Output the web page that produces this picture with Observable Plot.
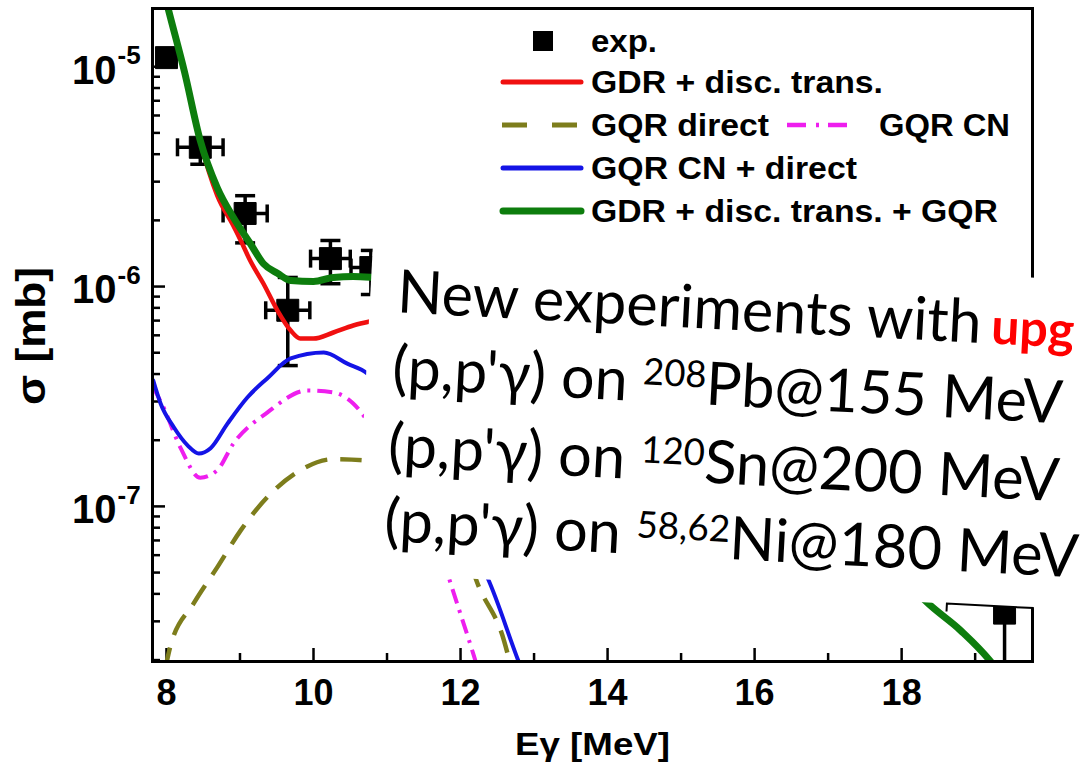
<!DOCTYPE html>
<html><head><meta charset="utf-8">
<script src="https://cdn.jsdelivr.net/npm/d3@7"></script>
<script src="https://cdn.jsdelivr.net/npm/@observablehq/plot@0.6"></script>
<style>html,body{margin:0;padding:0;background:#fff;overflow:hidden}</style>
</head><body><div id="chart"></div>
<script>
// ---------- data ----------
const expE     = [8.0, 8.46, 9.07, 9.65, 10.23, 10.78, 19.4];
const expSigma = [1.1e-5, 4.3e-6, 2.15e-6, 7.8e-7, 1.34e-6, 1.22e-6, 3.27e-8];
const expDE    = [0.1, 0.31, 0.3, 0.3, 0.27, 0.27, 0];
const expLo    = [1.1e-5, 3.6e-6, 1.58e-6, 4.37e-7, 1.03e-6, 9.2e-7, 1.0e-8];
const expHi    = [1.1e-5, 4.6e-6, 2.59e-6, 1.1e-6, 1.62e-6, 1.46e-6, 3.27e-8];

// GDR + disc. trans. + GQR (green), visible pieces
const greenE1 = [7.95, 8.03, 8.245, 8.46, 8.69, 8.91, 9.14, 9.32, 9.51, 9.69, 10.0, 10.27, 10.54, 10.82, 11.0];
const greenS1 = [2.3e-5, 1.8e-5, 9.49e-6, 4.61e-6, 2.82e-6, 2.06e-6, 1.57e-6, 1.27e-6, 1.15e-6, 1.065e-6, 1.054e-6, 1.10e-6, 1.11e-6, 1.10e-6, 1.09e-6];
const greenE2 = [18.2, 18.33, 18.8, 19.21, 19.3];
const greenS2 = [4.1e-8, 3.7e-8, 2.73e-8, 1.97e-8, 1.8e-8];

// GDR + disc. trans. (red)
const redE = [7.95, 8.03, 8.245, 8.46, 8.69, 8.91, 9.01, 9.14, 9.32, 9.51, 9.69, 9.82, 10.0, 10.27, 10.54, 10.82, 11.0];
const redS = [2.3e-5, 1.8e-5, 9.4e-6, 4.55e-6, 2.6e-6, 1.89e-6, 1.62e-6, 1.31e-6, 1.03e-6, 7.78e-7, 6.31e-7, 5.8e-7, 5.8e-7, 6.18e-7, 6.65e-7, 7.0e-7, 7.2e-7];

// GQR CN + direct (blue)
const blueE1 = [7.82, 7.92, 8.10, 8.29, 8.44, 8.60, 8.83, 9.10, 9.37, 9.69, 10.14, 10.46, 10.73, 10.95];
const blueS1 = [3.74e-7, 2.94e-7, 2.29e-7, 1.89e-7, 1.74e-7, 1.84e-7, 2.38e-7, 3.13e-7, 3.82e-7, 4.71e-7, 5.01e-7, 4.46e-7, 4.03e-7, 3.4e-7];
const blueE2 = [12.25, 12.37, 12.79, 12.85];
const blueS2 = [5.7e-8, 4.71e-8, 1.97e-8, 1.75e-8];

// GQR CN (magenta)
const magE1 = [7.82, 7.96, 8.19, 8.46, 8.69, 8.91, 9.37, 9.92, 10.27, 10.54, 10.73, 10.9];
const magS1 = [3.48e-7, 2.82e-7, 1.85e-7, 1.35e-7, 1.46e-7, 1.93e-7, 2.67e-7, 3.37e-7, 3.30e-7, 2.94e-7, 2.46e-7, 2.0e-7];
const magE2 = [11.76, 11.84, 12.18, 12.22];
const magS2 = [5.8e-8, 4.75e-8, 2.1e-8, 1.9e-8];

// GQR direct (olive)
const oliveE1 = [7.98, 8.05, 8.37, 8.69, 9.01, 9.37, 9.82, 10.27, 10.68, 10.9];
const oliveS1 = [1.8e-8, 2.29e-8, 3.62e-8, 5.28e-8, 7.78e-8, 1.10e-7, 1.46e-7, 1.64e-7, 1.62e-7, 1.55e-7];
const oliveE2 = [12.14, 12.23, 12.59, 12.68];
const oliveS2 = [5.4e-8, 4.47e-8, 2.46e-8, 1.9e-8];

// ticks and labels
const xTicks = [8, 10, 12, 14, 16, 18];
const xMinor = [9, 11, 13, 15, 17, 19];
const yMajor = [1e-7, 1e-6, 1e-5];
const yExpLabels = ["-7", "-6", "-5"];
const yMinor = [2e-8,3e-8,4e-8,5e-8,6e-8,7e-8,8e-8,9e-8,
                2e-7,3e-7,4e-7,5e-7,6e-7,7e-7,8e-7,9e-7,
                2e-6,3e-6,4e-6,5e-6,6e-6,7e-6,8e-6,9e-6];

const legendLabels = ["exp.", "GDR + disc. trans.", "GQR direct", "GQR CN", "GQR CN + direct", "GDR + disc. trans. + GQR"];
const xTitle = "Eγ [MeV]";
const yTitle = "σ [mb]";

// ---------- build ----------
const W = 1089, H = 764, mL = 152, mR = 57, mT = 8, mB = 103;
const pw = W - mL - mR, ph = H - mT - mB;

const C = {red: "#f01010", green: "#0d7d0d", blue: "#1414e6", magenta: "#ee1eee", olive: "#7d7d1c"};

const pts = expE.map((e, i) => ({E: e, s: expSigma[i], dE: expDE[i], lo: expLo[i], hi: expHi[i]}));
const ptsX = pts.filter(d => d.dE > 0);
const ptsY = pts.filter(d => d.hi > d.lo);
const seg = (E, S) => E.map((e, i) => ({E: e, s: S[i]}));

const capH = {draw(ctx, size) { const r = Math.sqrt(size / Math.PI); ctx.moveTo(-r, 0); ctx.lineTo(r, 0); }};
const capV = {draw(ctx, size) { const r = Math.sqrt(size / Math.PI); ctx.moveTo(0, -r); ctx.lineTo(0, r); }};

const lineOpts = (stroke, w, dash) => ({x: "E", y: "s", stroke, strokeWidth: w, strokeDasharray: dash, curve: "monotone-x", clip: true, strokeLinecap: dash ? "butt" : "round"});

const chart = Plot.plot({
  width: W, height: H,
  marginLeft: mL, marginRight: mR, marginTop: mT, marginBottom: mB,
  x: {domain: [7.81, 19.78], axis: null},
  y: {type: "log", domain: [1.97e-8, 1.84e-5], axis: null},
  style: {fontFamily: "'Liberation Sans', Arial, sans-serif", background: "white", overflow: "hidden"},
  marks: [
    // inward ticks
    Plot.ruleY(yMajor, {y: d => d, insetRight: pw - 13, stroke: "black", strokeWidth: 2.5}),
    Plot.ruleY(yMinor, {y: d => d, insetRight: pw - 8, stroke: "black", strokeWidth: 2.5}),
    Plot.ruleX(xTicks, {x: d => d, insetTop: ph - 13, stroke: "black", strokeWidth: 2.5}),
    Plot.ruleX(xMinor, {x: d => d, insetTop: ph - 8, stroke: "black", strokeWidth: 2.5}),
    // error bars
    Plot.ruleX(ptsY, {x: "E", y1: "lo", y2: "hi", stroke: "black", strokeWidth: 3.5, clip: true}),
    Plot.ruleY(ptsX, {y: "s", x1: d => d.E - d.dE, x2: d => d.E + d.dE, stroke: "black", strokeWidth: 3.5, clip: true}),
    Plot.dot(ptsY, {x: "E", y: "lo", symbol: capH, r: 10, fill: "none", stroke: "black", strokeWidth: 3.5, clip: true}),
    Plot.dot(ptsY, {x: "E", y: "hi", symbol: capH, r: 10, fill: "none", stroke: "black", strokeWidth: 3.5, clip: true}),
    Plot.dot(ptsX, {x: d => d.E - d.dE, y: "s", symbol: capV, r: 9, fill: "none", stroke: "black", strokeWidth: 3.5, clip: true}),
    Plot.dot(ptsX, {x: d => d.E + d.dE, y: "s", symbol: capV, r: 9, fill: "none", stroke: "black", strokeWidth: 3.5, clip: true}),
    Plot.dot(pts, {x: "E", y: "s", symbol: "square", r: 12.4, fill: "black", stroke: "black", strokeWidth: 1, clip: true}),
    // curves
    Plot.line(seg(oliveE1, oliveS1), lineOpts(C.olive, 4.5, "23,13")),
    Plot.line(seg(oliveE2, oliveS2), lineOpts(C.olive, 4.5, "23,13")),
    Plot.line(seg(magE1, magS1), lineOpts(C.magenta, 4, "15,7,3,7")),
    Plot.line(seg(magE2, magS2), lineOpts(C.magenta, 4, "15,7,3,7")),
    Plot.line(seg(blueE1, blueS1), lineOpts(C.blue, 4)),
    Plot.line(seg(blueE2, blueS2), lineOpts(C.blue, 4)),
    Plot.line(seg(redE, redS), lineOpts(C.red, 4.5)),
    Plot.line(seg(greenE1, greenS1), lineOpts(C.green, 7)),
    Plot.line(seg(greenE2, greenS2), lineOpts(C.green, 7)),
    Plot.frame({stroke: "black", strokeWidth: 3}),
    // tick labels
    Plot.axisX({ticks: xTicks, tickSize: 0, tickPadding: 18, fontSize: 36, fontWeight: "bold", label: null, tickFormat: d => String(d), fill: "black"}),
    Plot.text(yMajor, {y: d => d, frameAnchor: "left", text: () => "10", textAnchor: "end", dx: -36, dy: 4, fontSize: 40, fontWeight: "bold", fill: "black"}),
    Plot.text(yMajor, {y: d => d, frameAnchor: "left", text: (d, i) => yExpLabels[i], textAnchor: "start", dx: -35, dy: -11, fontSize: 26, fontWeight: "bold", fill: "black"})
  ]
});
document.getElementById("chart").appendChild(chart);

const svg = d3.select(chart);
const font = "'Liberation Sans', Arial, sans-serif";

// axis titles
svg.append("text").attr("transform", "translate(31,336) rotate(-90)")
  .attr("text-anchor", "middle").attr("dominant-baseline", "central")
  .attr("font-family", font).attr("font-weight", "bold").attr("font-size", 40).attr("fill", "black")
  .attr("textLength", 138).attr("lengthAdjust", "spacingAndGlyphs").text(yTitle);
svg.append("text").attr("x", 515).attr("y", 755).attr("text-anchor", "start")
  .attr("font-family", font).attr("font-weight", "bold").attr("font-size", 32).attr("fill", "black")
  .attr("textLength", 155).attr("lengthAdjust", "spacingAndGlyphs").text(xTitle);

// legend
const leg = svg.append("g").attr("font-family", font).attr("font-weight", "bold").attr("font-size", 31)
  .attr("fill", "black").attr("text-anchor", "start");
leg.append("rect").attr("x", 533).attr("y", 31).attr("width", 20).attr("height", 20).attr("fill", "black");
const legText = (x, y, s, len) => leg.append("text").attr("x", x).attr("y", y).attr("dy", "0.35em")
  .attr("text-anchor", "start").attr("textLength", len).attr("lengthAdjust", "spacingAndGlyphs").text(s);
legText(591, 41, legendLabels[0], 66);
legText(591, 82, legendLabels[1], 292);
legText(591, 125, legendLabels[2], 178);
legText(879, 125, legendLabels[3], 131);
legText(591, 168, legendLabels[4], 266);
legText(591, 211, legendLabels[5], 407);
const legLine = (x1, x2, y, c, w, dash, cap) => leg.append("line").attr("x1", x1).attr("x2", x2).attr("y1", y).attr("y2", y)
  .attr("stroke", c).attr("stroke-width", w).attr("stroke-dasharray", dash || null).attr("stroke-linecap", cap || "round");
legLine(503, 581, 82, C.red, 5);
legLine(502, 577, 125, C.olive, 5, "25,25", "butt");
legLine(787, 857, 125, C.magenta, 4.5, "19,10,3,9", "butt");
legLine(503, 581, 168, C.blue, 5);
legLine(503, 581, 211, C.green, 7);

// pasted annotation box
const g = svg.append("g").attr("transform", "translate(373,243) rotate(3)").attr("text-anchor", "start");
g.append("rect").attr("x", 0).attr("y", 0).attr("width", 820).attr("height", 330).attr("fill", "white");
g.append("path").attr("d", "M592,338V330H679").attr("fill", "none").attr("stroke", "black").attr("stroke-width", 2);
const tf = "Lato, 'Open Sans', sans-serif";
g.append("text").attr("x", 27).attr("y", 68).attr("text-anchor", "start").attr("font-family", tf).attr("font-size", 60).attr("fill", "black")
  .attr("textLength", 585).attr("lengthAdjust", "spacingAndGlyphs").text("New experiments with");
g.append("text").attr("x", 622).attr("y", 68).attr("text-anchor", "start").attr("font-family", tf).attr("font-size", 50).attr("font-weight", "bold")
  .attr("fill", "#ff0000").text("upg");
const addLine = (y, pre, sup, post, len) => {
  const t = g.append("text").attr("x", 26).attr("y", y).attr("text-anchor", "start").attr("font-family", tf).attr("font-size", 60).attr("fill", "black")
    .attr("textLength", len).attr("lengthAdjust", "spacingAndGlyphs");
  t.append("tspan").text(pre);
  t.append("tspan").attr("font-size", 37).attr("dy", -17).text(sup);
  t.append("tspan").attr("dy", 17).text(post);
};
addLine(144, "(p,p'γ) on ", "208", "Pb@155 MeV", 671);
addLine(222, "(p,p'γ) on ", "120", "Sn@200 MeV", 672);
addLine(297, "(p,p'γ) on ", "58,62", "Ni@180 MeV", 695);
</script>
</body></html>
